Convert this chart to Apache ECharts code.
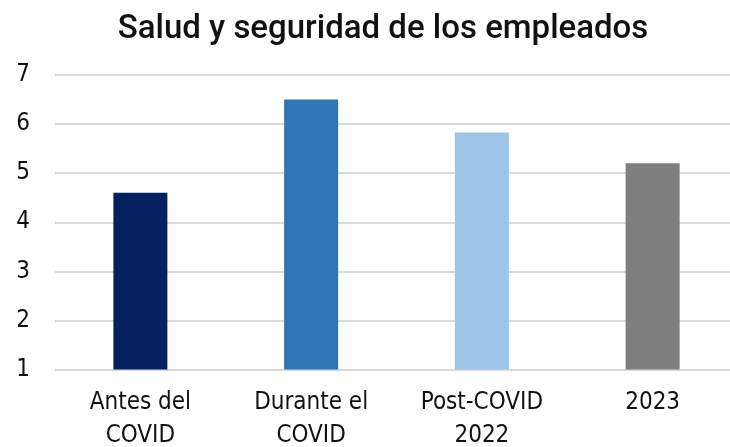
<!DOCTYPE html>
<html>
<head>
<meta charset="utf-8">
<script src="https://cdn.jsdelivr.net/npm/echarts@6/dist/echarts.min.js"></script>
<style>
  html, body { margin: 0; padding: 0; background: #fff; }
  #chart { width: 730px; height: 447px; }
</style>
</head>
<body>
<div id="chart"></div>
<script>
  // datos del gráfico
  const titleText = 'Salud y seguridad de los empleados'
  const categories = ['Antes del\nCOVID', 'Durante el\nCOVID', 'Post-COVID\n2022', '2023']
  const values = [4.6, 6.5, 5.83, 5.2]
  const barColors = ['#03215f', '#3075b6', '#9dc3e6', '#7f7f7f']

  const labelFont = '"Liberation Sans Narrow", "DejaVu Sans Condensed", Roboto, sans-serif'

  const chart = echarts.init(document.getElementById('chart'))

  chart.setOption({
    animation: false,
    title: {
      text: titleText,
      left: 378,
      textAlign: 'center',
      top: 8,
      textStyle: {
        fontFamily: 'Roboto, sans-serif',
        fontSize: 33,
        fontWeight: 500,
        color: '#111'
      }
    },
    grid: {
      left: 55,
      top: 75,
      width: 683,
      height: 294.5,
      outerBoundsMode: 'none'
    },
    xAxis: {
      type: 'category',
      data: categories,
      axisLine: { show: false },
      axisTick: { show: false },
      axisLabel: {
        margin: 17,
        fontFamily: labelFont,
        fontSize: 24,
        lineHeight: 33,
        color: '#111'
      }
    },
    yAxis: {
      type: 'value',
      min: 1,
      max: 7,
      interval: 1,
      axisLine: { show: false },
      axisTick: { show: false },
      axisLabel: {
        margin: 25,
        fontFamily: labelFont,
        fontSize: 24,
        color: '#111'
      },
      splitLine: { lineStyle: { color: '#d9d9d9', width: 2 } }
    },
    series: [{
      type: 'bar',
      barWidth: 54,
      data: values.map((v, i) => ({ value: v, itemStyle: { color: barColors[i] } }))
    }]
  })
</script>
</body>
</html>
